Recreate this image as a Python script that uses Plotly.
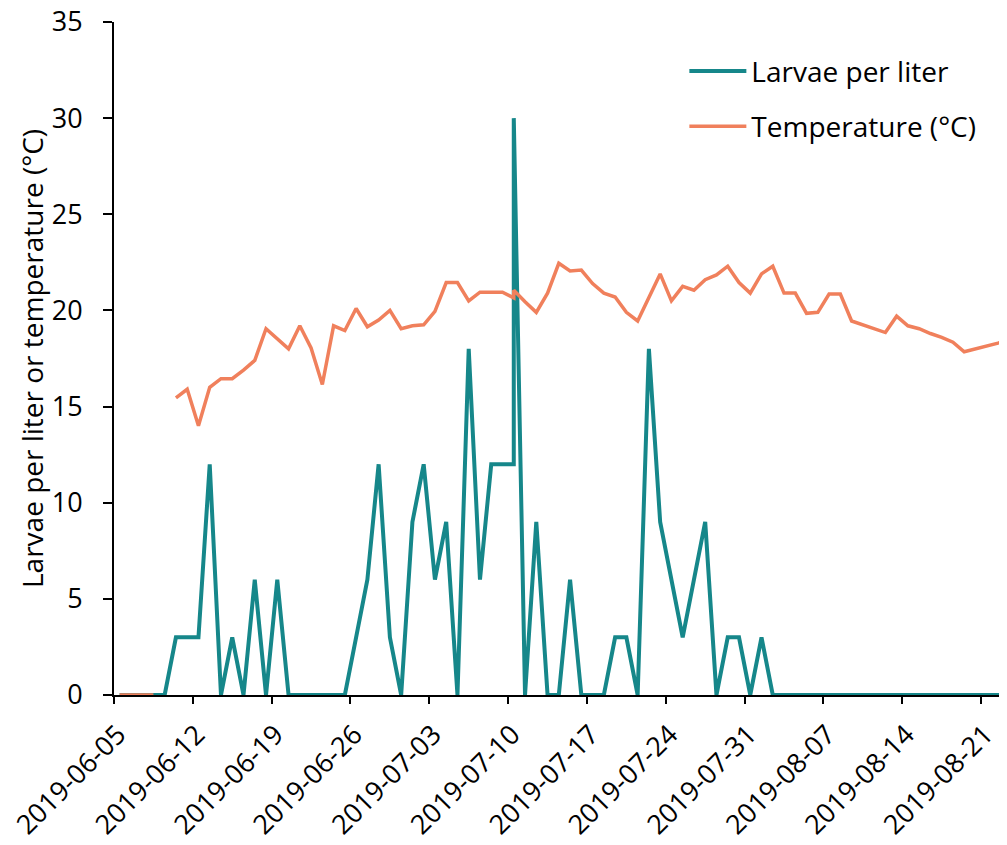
import pandas as pd
import plotly.graph_objects as go

# ---- data ----
start_date = "2019-06-05"
n_days = 80
tick_labels_step_days = 7

larvae_per_liter = [
    0, 0, 0, 0, 0, 3, 3, 3, 12, 0,
    3, 0, 6, 0, 6, 0, 0, 0, 0, 0,
    0, 3, 6, 12, 3, 0, 9, 12, 6, 9,
    0, 18, 6, 12, 12, 12, 0, 9, 0, 0,
    6, 0, 0, 0, 3, 3, 0, 18, 9, 6,
    3, 6, 9, 0, 3, 3, 0, 3, 0, 0,
    0, 0, 0, 0, 0, 0, 0, 0, 0, 0,
    0, 0, 0, 0, 0, 0, 0, 0, 0, 0,
]
temperature_c = [
    0, 0, 0, 0, None, 15.45, 15.9, 14.0, 16.0, 16.45,
    16.45, 16.9, 17.4, 19.05, 18.55, 18.0, 19.2, 18.05, 16.15, 19.2,
    18.95, 20.1, 19.15, 19.5, 20.0, 19.05, 19.2, 19.25, 19.95, 21.45,
    21.45, 20.5, 20.95, 20.95, 20.95, 20.65, 20.45, 19.9, 20.9, 22.45,
    22.05, 22.1, 21.4, 20.9, 20.7, 19.9, 19.45, 20.7, 21.9, 20.5,
    21.25, 21.05, 21.6, 21.85, 22.3, 21.45, 20.9, 21.9, 22.3, 20.9,
    20.9, 19.85, 19.9, 20.85, 20.85, 19.45, 19.25, 19.05, 18.85, 19.7,
    19.2, 19.05, 18.8, 18.6, 18.35, 17.85, 18.0, 18.15, 18.3, 18.5,
]
# a second sample taken on 2019-07-10
extra_sample_date = "2019-07-10"
extra_larvae = 30
extra_temperature = 21.05

y_ticks = [0, 5, 10, 15, 20, 25, 30, 35]

# ---- build series ----
dates = list(pd.date_range(start_date, periods=n_days, freq="D"))
extra_ts = pd.Timestamp(extra_sample_date)
idx = dates.index(extra_ts) + 1
x_dates = dates[:idx] + [extra_ts] + dates[idx:]
larvae = larvae_per_liter[:idx] + [extra_larvae] + larvae_per_liter[idx:]
temps = temperature_c[:idx] + [extra_temperature] + temperature_c[idx:]
# Excel date axis: points sit in the middle of each day slot
x_plot = [d + pd.Timedelta(hours=12) for d in x_dates]

TEAL = "#16878a"
ORANGE = "#f0805c"
FONT = "Open Sans"

fig = go.Figure()
fig.add_trace(go.Scatter(
    x=x_plot, y=larvae, mode="lines", name="Larvae per liter",
    line=dict(color=TEAL, width=4), legendgroup="a",
))
fig.add_trace(go.Scatter(
    x=x_plot, y=temps, mode="lines", name="Temperature (°C)",
    line=dict(color=ORANGE, width=3.5), legendgroup="b", connectgaps=False,
))

x0 = pd.Timestamp(start_date)
x1 = x0 + pd.Timedelta(days=79.3)
week_ms = tick_labels_step_days * 86400000

fig.update_layout(
    width=999, height=837,
    paper_bgcolor="white", plot_bgcolor="white",
    margin=dict(l=106, r=0, t=14, b=150, autoexpand=False),
    font=dict(family=FONT, color="#000000"),
    showlegend=True,
    legend=dict(
        x=0.6387, y=0.964, xanchor="left", yanchor="top",
        font=dict(size=28, family=FONT, color="#000"),
        bgcolor="rgba(0,0,0,0)", tracegroupgap=16, itemwidth=57,
    ),
)
fig.update_xaxes(
    type="date", range=[x0, x1],
    tick0=x0, dtick=week_ms,
    tickformat="%Y-%m-%d", tickangle=-45,
    tickfont=dict(size=27, family=FONT, color="#000"),
    ticklabeloverflow="allow", ticklabelshift=4,
    showline=True, linecolor="#000", linewidth=2,
    # transparent major ticks set the label gap; visible short marks below
    ticks="outside", ticklen=11, tickwidth=2, tickcolor="rgba(0,0,0,0)",
    minor=dict(ticks="outside", ticklen=7, tickwidth=2, tickcolor="#000",
               tick0=x0 + pd.Timedelta(minutes=1), dtick=week_ms, showgrid=False),
    showgrid=False, zeroline=False, automargin=False,
)
fig.update_yaxes(
    range=[0, 35], tickvals=y_ticks,
    tickfont=dict(size=27, family=FONT, color="#000"),
    ticklabelstandoff=15, ticklabeloverflow="allow",
    showline=True, linecolor="#000", linewidth=2,
    ticks="outside", ticklen=9, tickwidth=2, tickcolor="#000",
    showgrid=False, zeroline=False, automargin=False,
    title=dict(text="Larvae per liter or temperature (°C)",
               font=dict(size=28, family=FONT, color="#000"), standoff=0),
)

fig.write_html("out.html")
